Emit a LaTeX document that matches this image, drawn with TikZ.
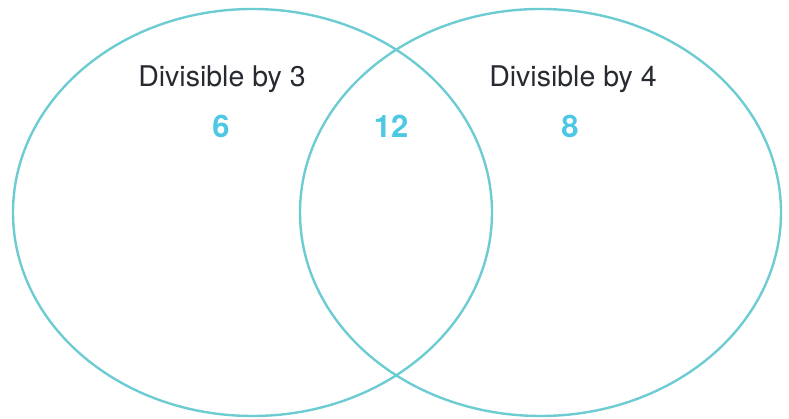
\documentclass[tikz,border=0pt]{standalone}
\usepackage{fontspec}
\setmainfont{TeX Gyre Heros}
\usepackage{xcolor}
\usepackage{tikz}
\usetikzlibrary{positioning,calc}

\definecolor{vennline}{RGB}{108,204,210}
\definecolor{vennnum}{RGB}{77,200,228}
\definecolor{venntext}{RGB}{40,42,50}

\tikzset{
    setlabel/.style={anchor=base, text=venntext, inner sep=0pt, font=\fontsize{28.5}{32}\selectfont},
    count/.style={anchor=base, text=vennnum, inner sep=0pt, font=\fontsize{31}{36}\selectfont\bfseries}
}

\begin{document}
\begin{tikzpicture}[x=1pt, y=1pt]
    \useasboundingbox (0,0) rectangle (789,419);

    % Sets
    \coordinate (three) at (252.5, 206.5);
    \coordinate (four) at (540.5, 206.5);
    \draw [vennline, line width=2.4pt] (three) ellipse (239.5 and 203.5);
    \draw [vennline, line width=2.4pt] (four) ellipse (240.5 and 203.5);

    % Set names
    \node [setlabel] (lblthree) at (222, 332) {Divisible by 3};
    \node [setlabel] (lblfour) at (573, 332) {Divisible by 4};

    % Counts
    \node [count] (onlythree) at (221, 281) {6};
    \node [count] (both) at (391, 281) {12};
    \node [count] (onlyfour) at (570, 281) {8};
\end{tikzpicture}
\end{document}
